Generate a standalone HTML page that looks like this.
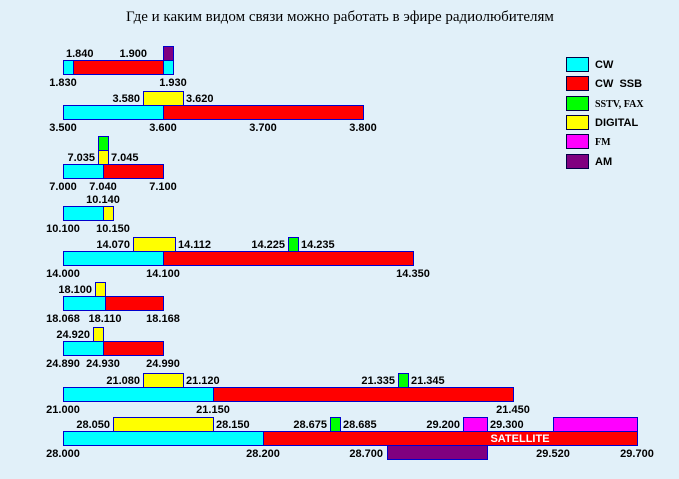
<!DOCTYPE html>
<html><head><meta charset="utf-8"><style>
html,body{margin:0;padding:0;background:#e1f0f9;}
svg{display:block;}
text{font-family:"Liberation Sans",sans-serif;font-weight:bold;font-size:11px;fill:#000;white-space:pre;}
</style></head><body>
<svg id="chart" width="679" height="479">
<rect x="0" y="0" width="679" height="479" fill="#e1f0f9"/>
<text x="340" y="21" text-anchor="middle" style="font-family:'Liberation Serif','DejaVu Serif',serif;font-weight:normal;font-size:15px">Где и каким видом связи можно работать в эфире радиолюбителям</text>
</svg>
<script>
const modes = ['CW','CW  SSB','SSTV, FAX','DIGITAL','FM','AM'];
const colors = {'CW':'#00ffff','CW  SSB':'#ff0000','SSTV, FAX':'#00ff00','DIGITAL':'#ffff00','FM':'#ff00ff','AM':'#800080'};
// band axes: frequency breakpoints -> axis scale
const bandTops = [60,105,164,206,251,296,341,387,431];
const bandAxes = [
 [[1.830,63],[1.840,73],[1.900,163],[1.930,173]],
 [[3.500,63],[3.800,363]],
 [[7.000,63],[7.040,103],[7.100,163]],
 [[10.100,63],[10.140,103],[10.150,113]],
 [[14.000,63],[14.100,163],[14.350,413]],
 [[18.068,63],[18.110,105],[18.168,163]],
 [[24.890,63],[24.930,103],[24.990,163]],
 [[21.000,63],[21.150,213],[21.450,513]],
 [[28.000,63],[28.200,263],[28.675,330],[28.685,340],[28.700,387],[29.200,463],[29.300,487],[29.520,553],[29.700,637]]
];
// segments: [band, start, end, mode, row(0=main,-1=above,-2=above2,1=below)]
const segments = [
 [0,1.830,1.840,'CW',0],[0,1.840,1.900,'CW  SSB',0],[0,1.900,1.930,'CW',0],[0,1.900,1.930,'AM',-1],
 [1,3.500,3.600,'CW',0],[1,3.600,3.800,'CW  SSB',0],[1,3.580,3.620,'DIGITAL',-1],
 [2,7.000,7.040,'CW',0],[2,7.040,7.100,'CW  SSB',0],[2,7.035,7.045,'DIGITAL',-1],[2,7.035,7.045,'SSTV, FAX',-2],
 [3,10.100,10.140,'CW',0],[3,10.140,10.150,'DIGITAL',0],
 [4,14.000,14.100,'CW',0],[4,14.100,14.350,'CW  SSB',0],[4,14.070,14.112,'DIGITAL',-1],[4,14.225,14.235,'SSTV, FAX',-1],
 [5,18.068,18.110,'CW',0],[5,18.110,18.168,'CW  SSB',0],[5,18.100,18.110,'DIGITAL',-1],
 [6,24.890,24.930,'CW',0],[6,24.930,24.990,'CW  SSB',0],[6,24.920,24.930,'DIGITAL',-1],
 [7,21.000,21.150,'CW',0],[7,21.150,21.450,'CW  SSB',0],[7,21.080,21.120,'DIGITAL',-1],[7,21.335,21.345,'SSTV, FAX',-1],
 [8,28.000,28.200,'CW',0],[8,28.200,29.700,'CW  SSB',0],[8,28.050,28.150,'DIGITAL',-1],[8,28.675,28.685,'SSTV, FAX',-1],
 [8,29.200,29.300,'FM',-1],[8,29.520,29.700,'FM',-1],[8,28.700,29.300,'AM',1]
];
// labels: [band, freq, text, position, anchor, dx]
const labels = [
 [0,1.840,'1.840','above','start',-10],[0,1.900,'1.900','above','end',-13],[0,1.830,'1.830','below','middle'],[0,1.930,'1.930','below','middle'],
 [1,3.580,'3.580','above','end'],[1,3.620,'3.620','above','start'],[1,3.500,'3.500','below','middle'],[1,3.600,'3.600','below','middle'],[1,3.700,'3.700','below','middle'],[1,3.800,'3.800','below','middle'],
 [2,7.035,'7.035','above','end'],[2,7.045,'7.045','above','start'],[2,7.000,'7.000','below','middle'],[2,7.040,'7.040','below','middle'],[2,7.100,'7.100','below','middle'],
 [3,10.140,'10.140','above','middle'],[3,10.100,'10.100','below','middle'],[3,10.150,'10.150','below','middle'],
 [4,14.070,'14.070','above','end'],[4,14.112,'14.112','above','start'],[4,14.225,'14.225','above','end'],[4,14.235,'14.235','above','start'],[4,14.000,'14.000','below','middle'],[4,14.100,'14.100','below','middle'],[4,14.350,'14.350','below','middle'],
 [5,18.100,'18.100','above','end'],[5,18.068,'18.068','below','middle'],[5,18.110,'18.110','below','middle'],[5,18.168,'18.168','below','middle'],
 [6,24.920,'24.920','above','end'],[6,24.890,'24.890','below','middle'],[6,24.930,'24.930','below','middle'],[6,24.990,'24.990','below','middle'],
 [7,21.080,'21.080','above','end'],[7,21.120,'21.120','above','start'],[7,21.335,'21.335','above','end'],[7,21.345,'21.345','above','start'],[7,21.000,'21.000','below','middle'],[7,21.150,'21.150','below','middle'],[7,21.450,'21.450','below','middle'],
 [8,28.050,'28.050','above','end'],[8,28.150,'28.150','above','start'],[8,28.675,'28.675','above','end'],[8,28.685,'28.685','above','start'],[8,29.200,'29.200','above','end'],[8,29.300,'29.300','above','start'],
 [8,28.000,'28.000','below','middle'],[8,28.200,'28.200','below','middle'],[8,28.700,'28.700','belowleft','end'],[8,29.520,'29.520','below','middle'],[8,29.700,'29.700','below','middle']
];
const H = 14;
const svg = document.getElementById('chart');
const NS = 'http://www.w3.org/2000/svg';
function xScale(b, f){
  const a = bandAxes[b];
  for(let i=0;i<a.length-1;i++){
    if(f<=a[i+1][0]+1e-9){const t=(f-a[i][0])/(a[i+1][0]-a[i][0]);return a[i][1]+t*(a[i+1][1]-a[i][1]);}
  }
  return a[a.length-1][1];
}
function mk(tag, attrs){const e=document.createElementNS(NS,tag);for(const k in attrs)e.setAttribute(k,attrs[k]);svg.appendChild(e);return e;}
segments.forEach(s=>{
  const [b,f0,f1,m,row]=s;
  const x0=xScale(b,f0), x1=xScale(b,f1), y=bandTops[b]+row*H;
  const r=mk('rect',{x:x0+0.5,y:y+0.5,width:x1-x0,height:H,fill:colors[m],stroke:'#0000cc','stroke-width':1});
  
  
});
labels.forEach(l=>{
  const [b,f,txt,pos,anchor]=l;
  const dx=l[5]||0;
  let x=xScale(b,f)+dx, y;
  if(pos==='above'){ y=bandTops[b]-3; if(anchor==='end')x-=3; else if(anchor==='start')x+=3; }
  else if(pos==='belowleft'){ y=bandTops[b]+H+12; x-=4; }
  else { y=bandTops[b]+H+12; }
  const t=mk('text',{x:x,y:y,'text-anchor':anchor});
  t.textContent=txt;
  
  
});
const sat=mk('text',{x:520,y:bandTops[8]+11,'text-anchor':'middle',style:'fill:#fff'});
sat.textContent='SATELLITE';


modes.forEach((m,i)=>{
  const y=57+i*19.3;
  const r=mk('rect',{x:566.5,y:Math.round(y)+0.5,width:22,height:14,fill:colors[m],stroke:'#000044','stroke-width':1});
  
  
  const t=mk('text',{x:595,y:Math.round(y)+11});
  if(m==='SSTV, FAX'||m==='FM')t.setAttribute('style','font-family:"Liberation Serif",serif;font-size:10px');
  t.textContent=m;
  
  
});
</script>
</body></html>
